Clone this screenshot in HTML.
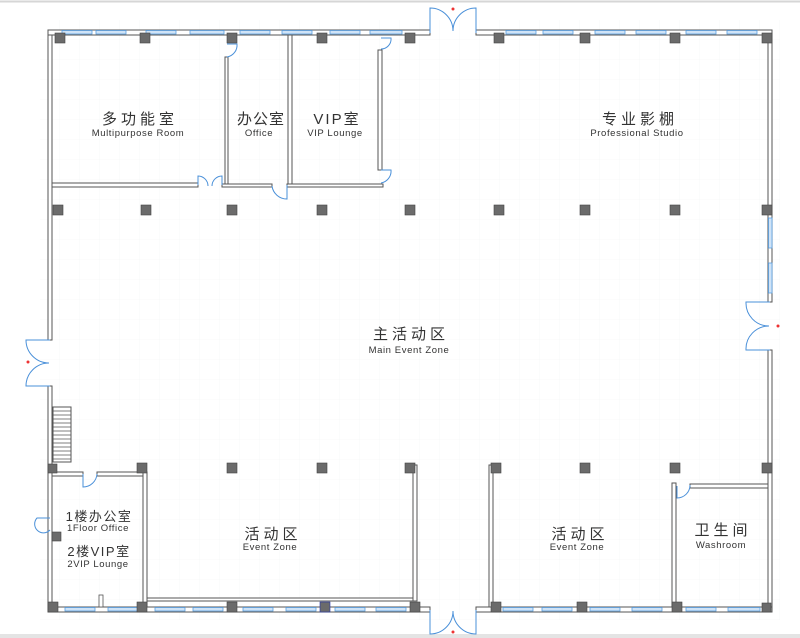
<!DOCTYPE html>
<html><head><meta charset="utf-8"><style>
html,body{margin:0;padding:0;background:#fff;}
svg{display:block;}
text{font-family:"Liberation Sans","Noto Sans CJK SC",sans-serif;fill:#333;text-anchor:middle;}
.cn{font-size:15px;letter-spacing:4px;}
.en{font-size:9.5px;letter-spacing:0.6px;}
</style></head><body>
<svg width="800" height="638" viewBox="0 0 800 638" xmlns="http://www.w3.org/2000/svg">
<defs>
<pattern id="g" width="20" height="20" patternUnits="userSpaceOnUse"><path d="M20 0V20H0" fill="none" stroke="#f2f4f6" stroke-width="0.6"/></pattern>
</defs>
<rect width="800" height="638" fill="#fff"/>
<rect x="40" y="20" width="740" height="600" fill="url(#g)"/>
<line x1="0" y1="1.5" x2="800" y2="1.5" stroke="#d6d6d6" stroke-width="2"/>
<rect x="0" y="634" width="800" height="4" fill="#e4e4e4"/>

<g fill="#fff" stroke="#555" stroke-width="1">
<rect x="48" y="30" width="4" height="310"/>
<rect x="48" y="386" width="4" height="226"/>
<rect x="768" y="30" width="4" height="272"/>
<rect x="768" y="350" width="4" height="262"/>
<rect x="48" y="30" width="382" height="5"/>
<rect x="476" y="30" width="296" height="5"/>
<rect x="48" y="607" width="382" height="5"/>
<rect x="476" y="607" width="296" height="5"/>
<rect x="52" y="183" width="146" height="4"/>
<rect x="225" y="57" width="3" height="130"/>
<rect x="222" y="184" width="50" height="3"/>
<rect x="288" y="35" width="4" height="152"/>
<rect x="287" y="184" width="96" height="3"/>
<rect x="378" y="50" width="4" height="120"/>
<rect x="52" y="472" width="31" height="4"/>
<rect x="97" y="472" width="50" height="4"/>
<rect x="143" y="472" width="4" height="135"/>
<rect x="147" y="598" width="268" height="3"/>
<rect x="413" y="465" width="4" height="136"/>
<rect x="489" y="465" width="4" height="142"/>
<rect x="672" y="483" width="4" height="124"/>
<rect x="690" y="484" width="78" height="4"/>
<rect x="53" y="407" width="18" height="55"/>
</g>
<g stroke="#555" stroke-width="0.8">
<line x1="53" y1="411" x2="71" y2="411"/><line x1="53" y1="415" x2="71" y2="415"/><line x1="53" y1="419" x2="71" y2="419"/><line x1="53" y1="423" x2="71" y2="423"/><line x1="53" y1="427" x2="71" y2="427"/><line x1="53" y1="431" x2="71" y2="431"/><line x1="53" y1="435" x2="71" y2="435"/><line x1="53" y1="439" x2="71" y2="439"/><line x1="53" y1="443" x2="71" y2="443"/><line x1="53" y1="447" x2="71" y2="447"/><line x1="53" y1="451" x2="71" y2="451"/><line x1="53" y1="455" x2="71" y2="455"/><line x1="53" y1="459" x2="71" y2="459"/>
</g>

<g fill="#cfe3f7" stroke="#5a9fe0" stroke-width="0.8">
<rect x="62" y="30.5" width="30" height="3.5"/><rect x="96" y="30.5" width="30" height="3.5"/><rect x="146" y="30.5" width="30" height="3.5"/><rect x="190" y="30.5" width="34" height="3.5"/>
<rect x="240" y="30.5" width="30" height="3.5"/><rect x="282" y="30.5" width="30" height="3.5"/><rect x="330" y="30.5" width="30" height="3.5"/><rect x="370" y="30.5" width="32" height="3.5"/>
<rect x="506" y="30.5" width="30" height="3.5"/><rect x="543" y="30.5" width="30" height="3.5"/><rect x="595" y="30.5" width="30" height="3.5"/><rect x="636" y="30.5" width="30" height="3.5"/><rect x="686" y="30.5" width="30" height="3.5"/><rect x="727" y="30.5" width="30" height="3.5"/>
<rect x="65" y="607.5" width="30" height="3.5"/><rect x="108" y="607.5" width="30" height="3.5"/><rect x="155" y="607.5" width="30" height="3.5"/><rect x="193" y="607.5" width="30" height="3.5"/><rect x="243" y="607.5" width="30" height="3.5"/><rect x="286" y="607.5" width="30" height="3.5"/><rect x="335" y="607.5" width="30" height="3.5"/><rect x="376" y="607.5" width="30" height="3.5"/>
<rect x="503" y="607.5" width="30" height="3.5"/><rect x="542" y="607.5" width="30" height="3.5"/><rect x="590" y="607.5" width="30" height="3.5"/><rect x="632" y="607.5" width="30" height="3.5"/><rect x="686" y="607.5" width="30" height="3.5"/><rect x="728" y="607.5" width="32" height="3.5"/>
<rect x="768.5" y="218" width="3.5" height="30"/><rect x="768.5" y="263" width="3.5" height="30"/>
</g>
<rect x="99" y="595" width="4" height="12" fill="#fff" stroke="#555" stroke-width="0.8"/>

<g fill="#6b6b6b" stroke="#444" stroke-width="0.6">
<rect x="55" y="33" width="10" height="10"/><rect x="140" y="33" width="10" height="10"/><rect x="227" y="33" width="10" height="10"/><rect x="317" y="33" width="10" height="10"/><rect x="405" y="33" width="10" height="10"/><rect x="494" y="33" width="10" height="10"/><rect x="580" y="33" width="10" height="10"/><rect x="670" y="33" width="10" height="10"/><rect x="762" y="33" width="10" height="10"/>
<rect x="53" y="205" width="10" height="10"/><rect x="141" y="205" width="10" height="10"/><rect x="227" y="205" width="10" height="10"/><rect x="317" y="205" width="10" height="10"/><rect x="405" y="205" width="10" height="10"/><rect x="494" y="205" width="10" height="10"/><rect x="580" y="205" width="10" height="10"/><rect x="670" y="205" width="10" height="10"/><rect x="762" y="205" width="10" height="10"/>
<rect x="48" y="464" width="9" height="9"/><rect x="137" y="463" width="10" height="10"/><rect x="227" y="463" width="10" height="10"/><rect x="317" y="463" width="10" height="10"/><rect x="405" y="463" width="10" height="10"/><rect x="491" y="463" width="10" height="10"/><rect x="580" y="463" width="10" height="10"/><rect x="670" y="463" width="10" height="10"/><rect x="762" y="463" width="10" height="10"/>
<rect x="52" y="532" width="9" height="9"/>
<rect x="48" y="602" width="10" height="10"/><rect x="137" y="602" width="10" height="10"/><rect x="227" y="602" width="10" height="10"/><rect x="320" y="602" width="10" height="10" stroke="#2233aa"/><rect x="410" y="602" width="10" height="10"/><rect x="491" y="602" width="10" height="10"/><rect x="577" y="602" width="10" height="10"/><rect x="672" y="602" width="10" height="10"/><rect x="762" y="603" width="9" height="9"/>
</g>

<g fill="none" stroke="#4a90d9" stroke-width="1">
<path d="M430 33V8A23 23 0 0 1 453 31A23 23 0 0 1 476 8V33"/>
<path d="M430 610V634A23 23 0 0 0 453 611A23 23 0 0 0 476 634V610"/>
<path d="M50 340H26A23 23 0 0 0 49 363A23 23 0 0 0 26 386H50"/>
<path d="M770 302H746A23 23 0 0 0 769 326A23 23 0 0 0 746 350H770"/>
<path d="M198 185V176A10 10 0 0 1 208 186M222 185V176A10 10 0 0 0 212 186"/>
<path d="M227 44H237A12 12 0 0 1 227 57"/>
<path d="M287 185V199A15 15 0 0 1 272 186"/>
<path d="M381 38H391A10 10 0 0 1 381 49"/>
<path d="M381 170H391A12 12 0 0 1 381 183"/>
<path d="M83 474V487A14 14 0 0 0 97 474"/>
<path d="M50 518H37A7 7 0 0 0 50 530"/>
<path d="M677 486V498A13 13 0 0 0 690 485"/>
</g>
<g fill="#e33">
<circle cx="453" cy="9" r="1.5"/><circle cx="453" cy="632" r="1.5"/><circle cx="28" cy="362" r="1.5"/><circle cx="778" cy="326" r="1.5"/>
</g>

<text class="cn" x="140" y="124">多功能室</text>
<text class="en" x="138" y="136">Multipurpose Room</text>
<text class="cn" x="261" y="124" style="letter-spacing:1px">办公室</text>
<text class="en" x="259" y="136">Office</text>
<text class="cn" x="337" y="124" style="letter-spacing:2px">VIP室</text>
<text class="en" x="335" y="136">VIP Lounge</text>
<text class="cn" x="640" y="124">专业影棚</text>
<text class="en" x="637" y="136">Professional Studio</text>
<text class="cn" x="411" y="339">主活动区</text>
<text class="en" x="409" y="353">Main Event Zone</text>
<text class="cn" x="273" y="539">活动区</text>
<text class="en" x="270" y="550">Event Zone</text>
<text class="cn" x="580" y="539">活动区</text>
<text class="en" x="577" y="550">Event Zone</text>
<text class="cn" x="723" y="535">卫生间</text>
<text class="en" x="721" y="548">Washroom</text>
<text class="cn" x="99" y="521" style="font-size:13px;letter-spacing:1.5px">1楼办公室</text>
<text class="en" x="98" y="531">1Floor Office</text>
<text class="cn" x="99" y="556" style="font-size:13px;letter-spacing:1.5px">2楼VIP室</text>
<text class="en" x="98" y="567">2VIP Lounge</text>
</svg>
</body></html>
